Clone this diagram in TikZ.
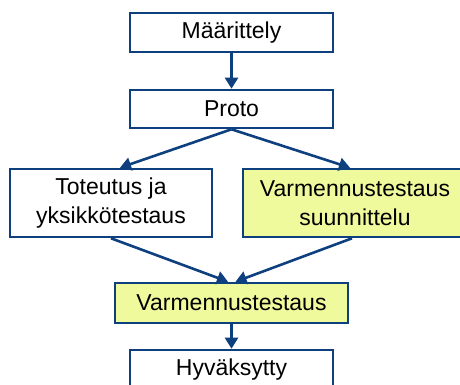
\documentclass[tikz,border=0pt]{standalone}
\usepackage{fontspec}
\setmainfont{Liberation Sans}
\usetikzlibrary{arrows.meta}
\definecolor{bdr}{HTML}{0E3F7E}
\definecolor{yel}{HTML}{EEFA9C}
\begin{document}
\begin{tikzpicture}[x=1pt,y=-1pt,
  box/.style={draw=bdr,line width=2.6pt,fill=white,inner sep=0pt,align=center,
    font=\fontsize{23}{29.5}\selectfont,text=black},
  hl/.style={box,fill=yel},
  conn/.style={draw=bdr,line width=2.6pt,-{Triangle[width=13pt,length=11pt]}}]
\useasboundingbox (0,0) rectangle (460,385);
\clip (0,0) rectangle (460,385);
\node[box,minimum width=203,minimum height=39] (m) at (231.5,32.5) {Määrittely};
\node[box,minimum width=203,minimum height=38] (p) at (231.5,109) {Proto};
\node[box,minimum width=202,minimum height=68] (t) at (111,203) {Toteutus ja\\yksikkötestaus};
\node[hl,minimum width=224,minimum height=68] (s) at (355,203) {Varmennustestaus\\suunnittelu};
\node[hl,minimum width=233,minimum height=40] (v) at (231.5,303) {Varmennustestaus};
\node[box,minimum width=203,minimum height=39] (h) at (231.5,369.5) {Hyväksytty};
\draw[conn] (m.south) -- (p.north);
\draw[conn] (p.south) -- ([xshift=9]t.north);
\draw[conn] (p.south) -- ([xshift=-5]s.north);
\draw[conn] (t.south) -- ([xshift=-3.5]v.north);
\draw[conn] ([xshift=-3]s.south) -- ([xshift=4]v.north);
\draw[conn] (v.south) -- (h.north);
\end{tikzpicture}
\end{document}
